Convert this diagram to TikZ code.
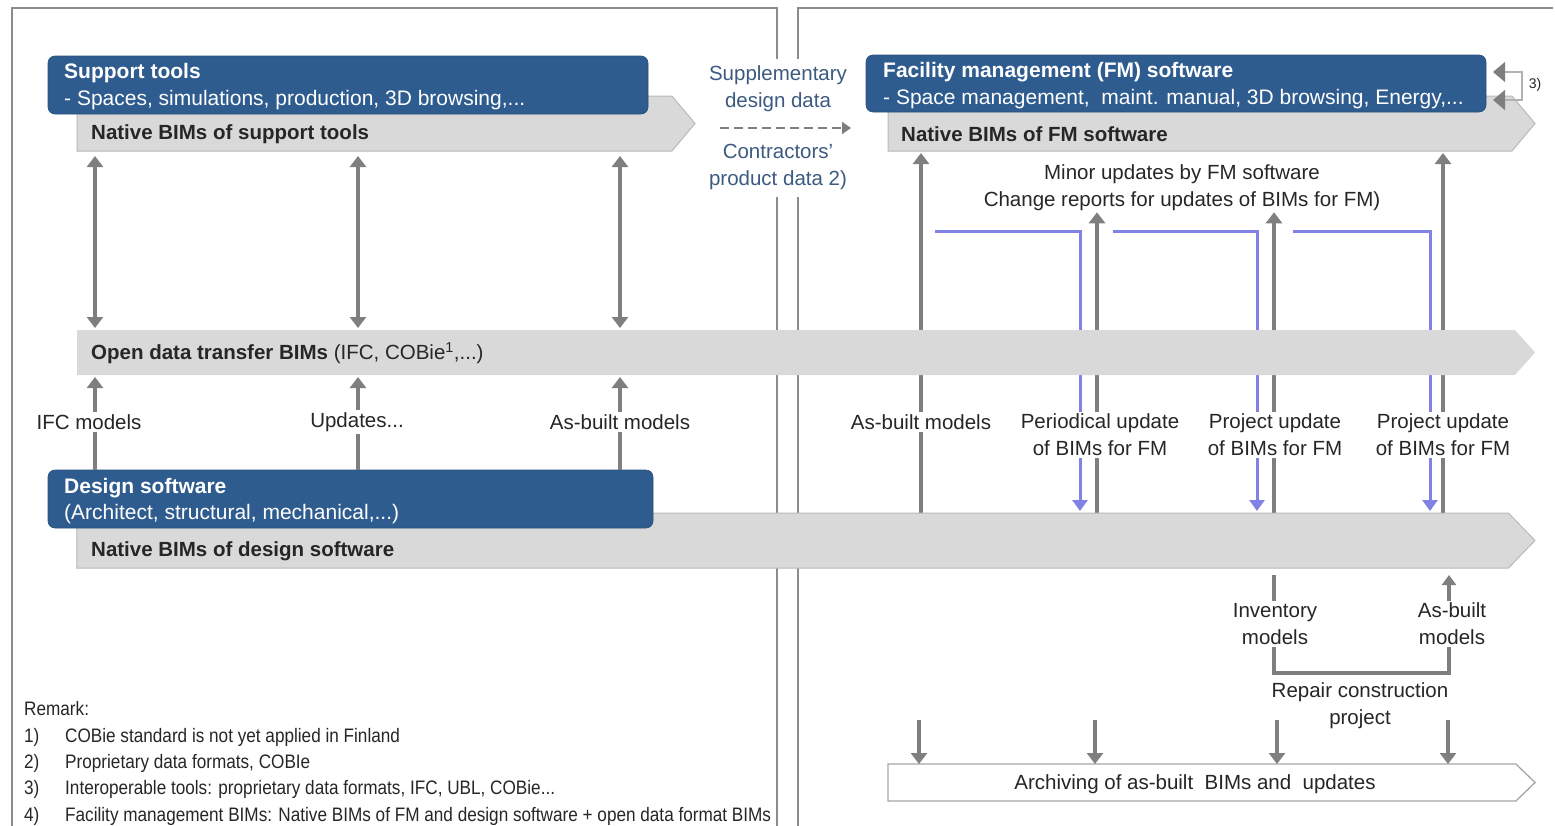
\documentclass[tikz,border=0pt]{standalone}
\usepackage{fontspec}
\setmainfont{Liberation Sans}
\newfontfamily\remfont[FakeStretch=0.88]{Liberation Sans}
\usetikzlibrary{arrows.meta,shapes.symbols}
\definecolor{boxblue}{HTML}{2F5C8F}
\definecolor{bandgray}{HTML}{D9D9D9}
\definecolor{linegray}{HTML}{7F7F7F}
\definecolor{upblue}{HTML}{8282E6}
\definecolor{slate}{HTML}{3D5A80}
\definecolor{framegray}{HTML}{8C8C8C}
\definecolor{txt}{HTML}{262626}
\begin{document}
\begin{tikzpicture}[x=1pt,y=-1pt,
  every node/.style={font=\fontsize{20.5}{27}\selectfont, text=txt, inner sep=1pt},
  band/.style={signal, signal to=east, signal from=nowhere, fill=bandgray, draw=gray!55, line width=1pt, inner sep=0pt, outer sep=0pt},
  bluebox/.style={fill=boxblue, draw=boxblue!85!black, line width=0.6pt, rounded corners=7pt, anchor=north west, inner sep=0pt, outer sep=0pt},
  boxtext/.style={text=white, anchor=west, inner sep=0pt, font=\fontsize{21}{27}\selectfont},
  garr/.style={draw=linegray, line width=3.5pt, -{Triangle[length=11pt,width=16pt]}},
  gdbl/.style={draw=linegray, line width=3.5pt, {Triangle[length=11pt,width=16pt]}-{Triangle[length=11pt,width=16pt]}},
  barr/.style={draw=upblue, line width=3pt, -{Triangle[length=11pt,width=15pt]}},
  lab/.style={fill=white, align=center, inner sep=2pt},
  remark/.style={font=\remfont\fontsize{19.5}{24}\selectfont, anchor=base west, inner sep=0pt}
]
\useasboundingbox (0,0) rectangle (1555,825);
% frames
\draw[framegray, line width=2pt] (12,830) -- (12,8) -- (777,8) -- (777,830);
\draw[framegray, line width=2pt] (798,830) -- (798,8) -- (1553,8);

% free ends
\coordinate (b1s) at (935,231);
\coordinate (b2s) at (1113,231);
\coordinate (b3s) at (1293,231);

\node[align=center] (minor) at (1182,188) {Minor updates by FM software\\Change reports for updates of BIMs for FM)};

% right vertical gray and blue lines (drawn before bands)
\draw[garr] (921,513) coordinate (g1s) -- (921,153) coordinate (g1e);
\draw[garr] (1097,513) coordinate (g2s) -- (minor.south -| 1097,0);
\draw[garr] (1274,513) coordinate (g3s) -- (minor.south -| 1274,0);
\draw[garr] (1443,513) coordinate (g4s) -- (1443,153) coordinate (g4e);
\draw[barr] (b1s) -- (1080,231) -- (1080,511);
\draw[barr] (b2s) -- (1257,231) -- (1257,511);
\draw[barr] (b3s) -- (1430,231) -- (1430,511);

% bands
\node[band, minimum width=618, minimum height=55, signal pointer angle=100] (supband) at (374.5,123.5) {};
\node[band, minimum width=647, minimum height=55, signal pointer angle=100] (fmband) at (1200,123.5) {};
\node[band, draw=none, minimum width=1458, minimum height=45, signal pointer angle=96] (openband) at (796,352.5) {};
\node[band, minimum width=1458, minimum height=55, signal pointer angle=92] (desband) at (792.7,540.5) {};
\node[band, fill=white, draw=gray!70, line width=1.3pt, minimum width=647, minimum height=37, signal pointer angle=88] (arch) at (1202,782.5) {};

% blue boxes
\node[bluebox, minimum width=600, minimum height=58] (suptools) at (48,56) {};
\node[boxtext] (suptitle) at (64,73) {\textbf{Support tools}};
\node[boxtext] (supsub) at (64,100) { - Spaces, simulations, production, 3D browsing,...};
\node[bluebox, minimum width=605, minimum height=58] (design) at (48,470) {};
\node[boxtext] (destitle) at (64,488) {\textbf{Design software}};
\node[boxtext] (dessub) at (64,514) {(Architect, structural, mechanical,...)};
\node[bluebox, minimum width=620, minimum height=57] (fmsoft) at (866,55) {};
\node[boxtext] (fmtitle) at (883,72) {\textbf{Facility management (FM) software}};
\node[boxtext] (fmsub) at (883,99) { - Space management,\ \ maint. manual, 3D browsing, Energy,...};

% band texts
\node[anchor=west] at (90,134) {\textbf{Native BIMs of support tools}};
\node[anchor=west] at (900,134) {\textbf{Native BIMs of FM software}};
\node[anchor=west] at (90,353) {\textbf{Open data transfer BIMs} (IFC, COBie\textsuperscript{1},...)};
\node[anchor=west] at (90,551) {\textbf{Native BIMs of design software}};
\node at (1195,784) {Archiving of as-built\ \ BIMs and\ \ updates};

% left arrows
\foreach \x in {95,358,620}{
  \draw[gdbl] ([yshift=-5pt]supband.south -| \x,0) -- ([yshift=2pt]openband.north -| \x,0);
  \draw[garr] (design.north -| \x,0) -- ([yshift=-2pt]openband.south -| \x,0);
}
\node[lab] at (89,422) {IFC models};
\node[lab] at (357,422) {Updates...};
\node[lab] at (620,422) {As-built models};

% middle exchange
\node[lab, text=slate, inner xsep=6pt, inner ysep=7pt] (mid) at (778,128) {Supplementary\\design data\\[24pt]Contractors'\\product data 2)};
\coordinate (dashs) at (720,128);
\coordinate (dashe) at (851,128);
\draw[draw=linegray, line width=2.8pt, dash pattern=on 9pt off 5pt, -{Triangle[length=9pt,width=12pt]}] (dashs) -- (dashe);

% right labels
\node[lab] at (921,422) {As-built models};
\node[lab] at (1100,435) {Periodical update\\of BIMs for FM};
\node[lab] at (1275,435) {Project update\\of BIMs for FM};
\node[lab] at (1443,435) {Project update\\of BIMs for FM};

% 3) loop
\draw[draw=gray!60, line width=1.5pt, {Triangle[length=12pt,width=20pt,fill=linegray,color=linegray]}-{Triangle[length=12pt,width=20pt,fill=linegray,color=linegray]}] (1493,72) coordinate (l3a) -- (1522,72) -- (1522,100) -- (1493,100) coordinate (l3b);
\node[font=\fontsize{14}{16}\selectfont] at (1535,85) {3)};

% repair construction bracket
\draw[draw=linegray, line width=3.5pt, -{Triangle[length=10pt,width=14pt]}] ([yshift=-7pt]desband.south -| 1274,0) -- (1274,673) -- (1449,673) -- ([yshift=-7pt]desband.south -| 1449,0);
\node[lab] at (1275,624) {Inventory\\models};
\node[lab] at (1452,624) {As-built\\models};
\node[lab] at (1360,706) {Repair construction\\project};

% down arrows to archive
\foreach \x in {919,1095,1277,1448}{
  \draw[garr] (\x,720) -- (arch.north -| \x,0);
}

% remarks
\node[remark] at (24,715) {Remark:};
\node[remark] at (24,742) {1)};
\node[remark] at (65,742) {COBie standard is not yet applied in Finland};
\node[remark] at (24,768) {2)};
\node[remark] at (65,768) {Proprietary data formats, COBIe};
\node[remark] at (24,794) {3)};
\node[remark] at (65,794) {Interoperable tools: proprietary data formats, IFC, UBL, COBie...};
\node[remark] at (24,821) {4)};
\node[remark] at (65,821) {Facility management BIMs: Native BIMs of FM and design software + open data format BIMs};
\end{tikzpicture}
\end{document}
